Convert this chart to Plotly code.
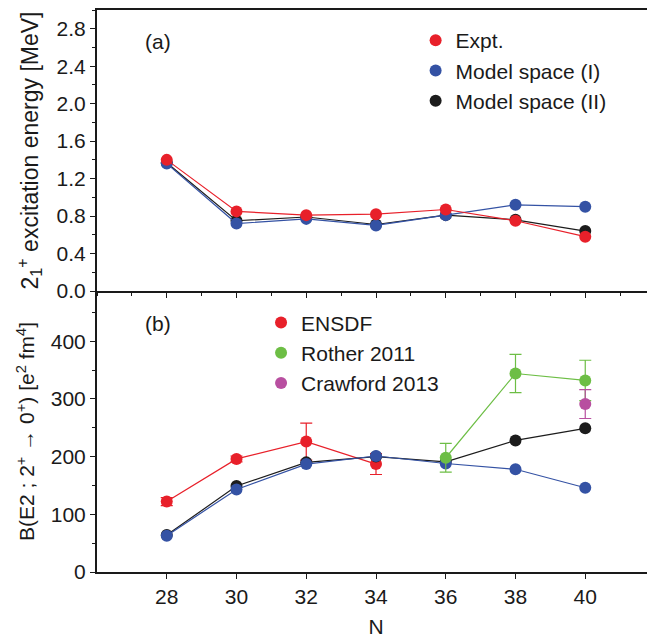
import plotly.graph_objects as go

N = [28, 30, 32, 34, 36, 38, 40]

# Panel (a): 2_1^+ excitation energy [MeV]
e_expt = [1.40, 0.85, 0.81, 0.82, 0.87, 0.75, 0.58]
e_model1 = [1.36, 0.72, 0.77, 0.70, 0.81, 0.92, 0.90]
e_model2 = [1.37, 0.75, 0.79, 0.71, 0.81, 0.76, 0.64]

# Panel (b): B(E2) [e^2 fm^4]
ensdf_N = [28, 30, 32, 34]
ensdf_val = [122, 196, 226, 187]
ensdf_err = [7, 5, 32, 18]
rother_N = [36, 38, 40]
rother_val = [198, 344, 332]
rother_err = [25, 33, 35]
crawford_N = [40]
crawford_val = [291]
crawford_err = [25]
b_model1 = [63, 143, 187, 201, 188, 178, 146]
b_model2 = [64, 149, 190, 200, 191, 228, 249]

legend_a = ["Expt.", "Model space (I)", "Model space (II)"]
legend_b = ["ENSDF", "Rother 2011", "Crawford 2013"]

RED = "#E8202A"
BLUE = "#3452A4"
BLACK = "#1c1c1c"
GREEN = "#6DBE45"
MAGENTA = "#B84FA0"
FONT = "Liberation Sans, Arial"
TXT = "#1a1a1a"

fig = go.Figure()

def line_trace(x, y, color, xa, ya, err=None):
    kw = {}
    if err is not None:
        kw["error_y"] = dict(type="data", array=err, visible=True, color=color,
                             thickness=1.2, width=6)
    return go.Scatter(x=x, y=y, mode="lines+markers",
                      line=dict(color=color, width=1.2),
                      marker=dict(color=color, size=12),
                      xaxis=xa, yaxis=ya, showlegend=False, **kw)

def legend_trace(name, color, xa, ya, legend, rank):
    return go.Scatter(x=[None], y=[None], mode="markers", name=name,
                      marker=dict(color=color, size=12),
                      xaxis=xa, yaxis=ya, legend=legend, showlegend=True,
                      legendrank=rank, legendgroup=name)

# top panel
fig.add_trace(line_trace(N, e_model2, BLACK, "x", "y"))
fig.add_trace(line_trace(N, e_model1, BLUE, "x", "y"))
fig.add_trace(line_trace(N, e_expt, RED, "x", "y"))

# bottom panel
fig.add_trace(line_trace(ensdf_N, ensdf_val, RED, "x2", "y2", ensdf_err))
fig.add_trace(line_trace(N, b_model2, BLACK, "x2", "y2"))
fig.add_trace(line_trace(N, b_model1, BLUE, "x2", "y2"))
fig.add_trace(line_trace(rother_N, rother_val, GREEN, "x2", "y2", rother_err))
fig.add_trace(line_trace(crawford_N, crawford_val, MAGENTA, "x2", "y2", crawford_err))

# legends
for i, (name, col) in enumerate(zip(legend_a, [RED, BLUE, BLACK])):
    fig.add_trace(legend_trace(name, col, "x", "y", "legend", i + 1))
for i, (name, col) in enumerate(zip(legend_b, [RED, GREEN, MAGENTA])):
    fig.add_trace(legend_trace(name, col, "x2", "y2", "legend2", i + 1))

axis_common = dict(showline=True, linecolor=TXT, linewidth=2,
                   ticks="outside", ticklen=5, tickwidth=1.2, tickcolor=TXT,
                   showgrid=False, zeroline=False, automargin=False,
                   tickfont=dict(family=FONT, size=21, color=TXT))
minor_common = dict(ticks="outside", ticklen=3, tickwidth=1, tickcolor=TXT)

# the page places the figure 8px from the top-left corner
fig.update_layout(
    width=647, height=633,
    margin=dict(l=89, r=0, t=2, b=69),
    paper_bgcolor="white", plot_bgcolor="white",
    font=dict(family=FONT, size=20, color=TXT),
    xaxis=dict(axis_common, domain=[0, 1], anchor="y", range=[26, 42],
               tickvals=N, showticklabels=False, mirror=True,
               minor=dict(minor_common, dtick=1, tick0=27)),
    yaxis=dict(axis_common, domain=[0.5, 1], anchor="x", range=[0, 3.0],
               tickvals=[0, 0.4, 0.8, 1.2, 1.6, 2.0, 2.4, 2.8],
               ticktext=["0.0", "0.4", "0.8", "1.2", "1.6", "2.0", "2.4", "2.8"],
               minor=dict(minor_common, dtick=0.2, tick0=0),
               title=dict(text="2<sub>1</sub><sup>+</sup> excitation energy [MeV]",
                          font=dict(family=FONT, size=23), standoff=12)),
    xaxis2=dict(axis_common, domain=[0, 1], anchor="y2", range=[26, 42],
                tickvals=N, ticktext=[str(n) for n in N],
                title=dict(text="N", font=dict(family=FONT, size=21), standoff=12)),
    yaxis2=dict(axis_common, domain=[0, 0.5], anchor="x2", range=[0, 487],
                tickvals=[0, 100, 200, 300, 400],
                minor=dict(minor_common, dtick=50, tick0=0),
                title=dict(text="B(E2 ; 2<sup>+</sup> → 0<sup>+</sup>) [e<sup>2</sup> fm<sup>4</sup>]",
                           font=dict(family=FONT, size=21), standoff=10)),
    legend=dict(x=0.571, y=0.982, xanchor="left", yanchor="top",
                bgcolor="rgba(0,0,0,0)", font=dict(family=FONT, size=21),
                tracegroupgap=0, itemsizing="constant"),
    legend2=dict(x=0.294, y=0.48, xanchor="left", yanchor="top",
                 bgcolor="rgba(0,0,0,0)", font=dict(family=FONT, size=21),
                 tracegroupgap=0, itemsizing="constant"),
    annotations=[
        dict(text="(a)", x=0.082, y=0.968, xref="paper", yref="paper",
             showarrow=False, font=dict(family=FONT, size=21)),
        dict(text="(b)", x=0.082, y=0.443, xref="paper", yref="paper",
             showarrow=False, font=dict(family=FONT, size=21)),
    ],
)

fig.write_html("out.html")
